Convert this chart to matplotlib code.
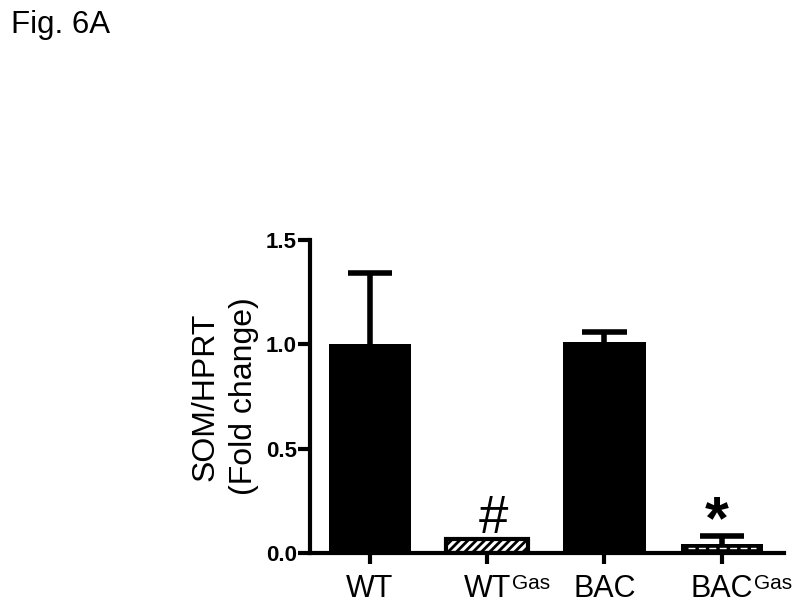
import matplotlib
matplotlib.use("Agg")
import matplotlib.pyplot as plt

plt.rcParams['font.family'] = ['Liberation Sans', 'DejaVu Sans']
plt.rcParams['hatch.linewidth'] = 2.0

groups = ['WT', 'WT', 'BAC', 'BAC']
supers = ['', 'Gas', '', 'Gas']
values = [1.00, 0.065, 1.01, 0.045]
errors = [0.34, 0.0, 0.05, 0.038]
marks = ['', '#', '', '*']
y_ticks = [0.0, 0.5, 1.0, 1.5]

LW = 3.0
CAP = 0.19  # half width of error caps, in bar units

fig = plt.figure(figsize=(8, 6.13), dpi=100)
ax = fig.add_axes([0.3875, 0.0979, 0.5925, 0.5106])

x = list(range(len(groups)))
bars = ax.bar(x, values, width=0.70, color='black', edgecolor='black',
              linewidth=0, zorder=2)

# WT-Gas: white bar, hatched, black outline
b = bars[1]
b.set_facecolor('white')
b.set_hatch('////')
b.set_linewidth(LW)

# BAC-Gas: black bar with a white dashed line through the middle
b = bars[3]
ax.plot([b.get_x() + 0.06, b.get_x() + b.get_width() - 0.06],
        [b.get_height() / 2] * 2, color='white', lw=1.0,
        dashes=(5, 2.5), zorder=3)

# error bars, upper half only
for xi, v, e in zip(x, values, errors):
    if e <= 0:
        continue
    ax.vlines(xi, v, v + e, color='black', lw=4, zorder=4)
    ax.hlines(v + e, xi - CAP, xi + CAP, color='black', lw=4, zorder=4)

for xi, v, e, m in zip(x, values, errors, marks):
    if m == '#':
        ax.text(xi + 0.05, v + e + 0.10, m, ha='center', va='center',
                fontsize=38, zorder=5)
    elif m == '*':
        ax.text(xi - 0.04, v + e + 0.06, m, ha='center', va='center',
                fontsize=44, fontweight='bold', zorder=5)

ax.set_xlim(-0.51, 3.53)
ax.set_ylim(0, 1.5)
ax.set_yticks(y_ticks)
ax.set_yticklabels([f'{t:.1f}' for t in y_ticks])
ax.set_xticks(x)
ax.set_xticklabels(groups, fontsize=22)

for lab in ax.get_yticklabels():
    lab.set_fontweight('bold')
    lab.set_fontsize(16)

# superscripts hang off the right of the centred label
for lab, s in zip(ax.get_xticklabels(), supers):
    if s:
        ax.annotate(s, xy=(1, 1), xycoords=lab, xytext=(0.5, 0),
                    textcoords='offset points', ha='left', va='top',
                    fontsize=15, annotation_clip=False)

ax.spines['top'].set_visible(False)
ax.spines['right'].set_visible(False)
ax.spines['left'].set_linewidth(LW)
ax.spines['bottom'].set_linewidth(LW)
ax.spines['bottom'].set_zorder(3)
ax.tick_params(axis='y', length=8.5, width=LW, pad=1)
ax.tick_params(axis='x', length=8, width=LW, pad=7)

ax.set_ylabel('SOM/HPRT\n(Fold change)', fontsize=23, labelpad=5,
              linespacing=1.35)

fig.text(0.014, 0.946, 'Fig. 6A', fontsize=22.5, ha='left', va='baseline')

fig.savefig('out.png', dpi=100)
